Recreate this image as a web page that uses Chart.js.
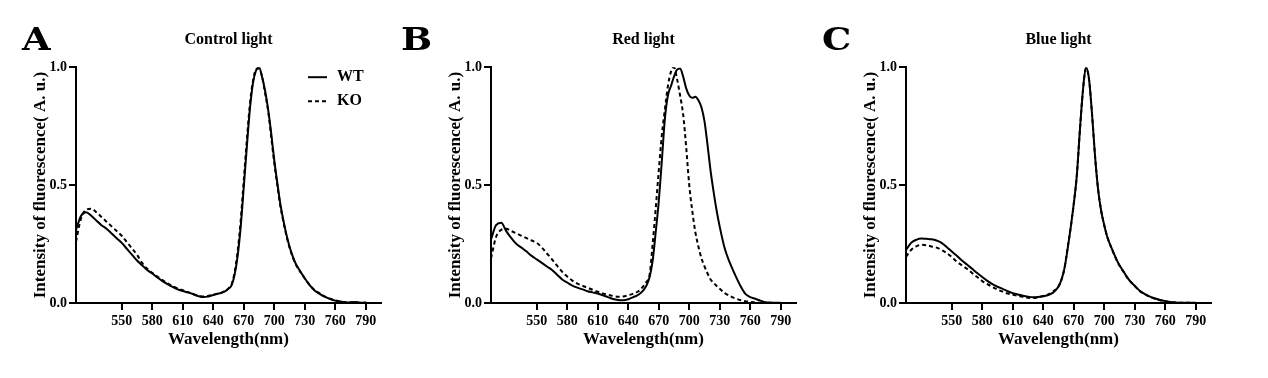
<!DOCTYPE html>
<html>
<head>
<meta charset="utf-8">
<script src="https://cdn.jsdelivr.net/npm/chart.js@4"></script>
<style>
  body { margin: 0; background: #fff; }
  #wrap { position: relative; width: 1268px; height: 378px; }
  .panel { position: absolute; top: 0; width: 415px; height: 378px; }
  .tag { position: absolute; top: 20px; font: bold 32px 'DejaVu Serif', 'Liberation Serif', serif; transform: scaleX(1.15); transform-origin: left top; }
</style>
</head>
<body>
<div id="wrap">
  <div class="panel" style="left:0px"><canvas id="chartA" width="415" height="378"></canvas></div>
  <div class="panel" style="left:415px"><canvas id="chartB" width="415" height="378"></canvas></div>
  <div class="panel" style="left:830px"><canvas id="chartC" width="415" height="378"></canvas></div>
  <div class="tag" style="left:22px">A</div>
  <div class="tag" style="left:401px">B</div>
  <div class="tag" style="left:822px">C</div>
</div>
<script>
// wavelength grid (nm), shared by every series
var wavelength = [505, 510, 515, 520, 525, 530, 535, 540, 545, 550, 555, 560, 565, 570, 575, 580, 585, 590, 595, 600,
  605, 610, 615, 620, 625, 630, 635, 640, 645, 650, 655,
  658, 661, 664, 667, 670, 673, 676, 679, 682, 685, 688, 691, 694, 697, 700, 703, 706, 709, 712, 715, 718, 721, 724, 727, 730,
  735, 740, 745, 750, 755, 760, 765, 770, 775, 780, 785, 790];

var xTicks = [550, 580, 610, 640, 670, 700, 730, 760, 790];
var yTicks = [0, 0.5, 1.0];
var seriesNames = ['WT', 'KO'];
var panelTitles = ['Control light', 'Red light', 'Blue light'];

// A: control light
var controlWT = [0.31, 0.37, 0.385, 0.37, 0.35, 0.33, 0.315, 0.295, 0.275, 0.255, 0.23, 0.205, 0.18, 0.16, 0.14, 0.125, 0.108, 0.093, 0.08, 0.068,
  0.058, 0.051, 0.045, 0.038, 0.03, 0.025, 0.027, 0.034, 0.04, 0.046, 0.06,
  0.075, 0.12, 0.2, 0.323, 0.49, 0.66, 0.82, 0.93, 0.985, 1.0, 0.96, 0.9, 0.82, 0.72, 0.606, 0.51, 0.42, 0.35, 0.29, 0.24, 0.2, 0.168, 0.145, 0.125, 0.105,
  0.075, 0.052, 0.038, 0.026, 0.017, 0.01, 0.006, 0.003, 0.002, 0.004, 0.001, 0.002];
var controlKO = [0.26, 0.36, 0.395, 0.4, 0.385, 0.365, 0.345, 0.325, 0.305, 0.285, 0.258, 0.232, 0.205, 0.17, 0.145, 0.128, 0.112, 0.097, 0.083, 0.072,
  0.062, 0.054, 0.046, 0.038, 0.031, 0.028, 0.03, 0.035, 0.04, 0.047, 0.062,
  0.08, 0.13, 0.22, 0.35, 0.52, 0.69, 0.84, 0.94, 0.99, 0.995, 0.96, 0.89, 0.815, 0.705, 0.595, 0.5, 0.41, 0.345, 0.285, 0.235, 0.197, 0.165, 0.143, 0.123, 0.104,
  0.076, 0.054, 0.04, 0.027, 0.018, 0.011, 0.006, 0.003, 0.003, 0.003, 0.001, 0.002];

// B: red light
var redWT = [0.27, 0.33, 0.34, 0.305, 0.275, 0.25, 0.235, 0.218, 0.2, 0.185, 0.17, 0.155, 0.14, 0.12, 0.1, 0.087, 0.074, 0.065, 0.058, 0.05,
  0.045, 0.04, 0.033, 0.025, 0.017, 0.013, 0.012, 0.016, 0.025, 0.035, 0.055,
  0.075, 0.11, 0.18, 0.3, 0.43, 0.6, 0.78, 0.88, 0.92, 0.96, 0.99, 0.995, 0.96, 0.91, 0.88, 0.87, 0.875, 0.86, 0.83, 0.77, 0.67, 0.56, 0.47, 0.39, 0.323,
  0.23, 0.17, 0.12, 0.075, 0.04, 0.025, 0.018, 0.01, 0.003, 0.002, 0.001, 0.001];
var redKO = [0.19, 0.28, 0.31, 0.315, 0.305, 0.295, 0.285, 0.275, 0.265, 0.255, 0.235, 0.21, 0.185, 0.158, 0.132, 0.112, 0.095, 0.082, 0.073, 0.065,
  0.056, 0.048, 0.041, 0.035, 0.03, 0.027, 0.028, 0.033, 0.04, 0.05, 0.072,
  0.09, 0.12, 0.25, 0.4, 0.56, 0.71, 0.82, 0.92, 0.98, 1.0, 0.95, 0.88, 0.8, 0.66, 0.5, 0.39, 0.3, 0.24, 0.19, 0.155, 0.125, 0.1, 0.085, 0.072, 0.06,
  0.042, 0.03, 0.02, 0.013, 0.008, 0.005, 0.002, 0.001, null, null, null, null];

// C: blue light
var blueWT = [0.225, 0.255, 0.268, 0.274, 0.272, 0.27, 0.265, 0.255, 0.237, 0.218, 0.2, 0.18, 0.163, 0.145, 0.127, 0.11, 0.094, 0.08, 0.069, 0.06,
  0.05, 0.042, 0.036, 0.031, 0.027, 0.024, 0.025, 0.029, 0.034, 0.045, 0.07,
  0.1, 0.15, 0.23, 0.32, 0.42, 0.54, 0.73, 0.9, 1.0, 0.95, 0.8, 0.62, 0.48, 0.39, 0.33, 0.28, 0.245, 0.215, 0.185, 0.16, 0.14, 0.12, 0.1, 0.086, 0.073,
  0.052, 0.038, 0.027, 0.019, 0.013, 0.008, 0.004, 0.002, 0.001, 0.001, 0.001, 0.001];
var blueKO = [0.196, 0.225, 0.24, 0.247, 0.245, 0.24, 0.235, 0.225, 0.212, 0.195, 0.175, 0.16, 0.145, 0.127, 0.11, 0.093, 0.08, 0.068, 0.057, 0.048,
  0.04, 0.035, 0.03, 0.026, 0.022, 0.021, 0.024, 0.03, 0.036, 0.05, 0.07,
  0.1, 0.15, 0.235, 0.32, 0.42, 0.54, 0.73, 0.9, 0.995, 0.95, 0.8, 0.62, 0.48, 0.39, 0.33, 0.28, 0.245, 0.213, 0.183, 0.158, 0.138, 0.118, 0.098, 0.085, 0.072,
  0.05, 0.037, 0.026, 0.018, 0.012, 0.007, 0.004, 0.002, 0.001, 0.001, 0.001, null];

Chart.defaults.font.family = "'Liberation Serif', 'Times New Roman', serif";
Chart.defaults.color = '#000';

// legend drawn inside the plot area (top right), from the datasets themselves
var insideLegend = {
  id: 'insideLegend',
  afterDraw: function (chart) {
    var ctx = chart.ctx;
    var area = chart.chartArea;
    var x0 = area.right - 73;
    chart.data.datasets.forEach(function (ds, i) {
      var y = area.top + 10 + i * 24;
      ctx.save();
      ctx.strokeStyle = ds.borderColor;
      ctx.lineWidth = ds.borderWidth;
      ctx.setLineDash(ds.borderDash || []);
      ctx.beginPath();
      ctx.moveTo(x0, y);
      ctx.lineTo(x0 + 19, y);
      ctx.stroke();
      ctx.setLineDash([]);
      ctx.fillStyle = '#000';
      ctx.font = "bold 16px 'Liberation Serif', serif";
      ctx.textBaseline = 'middle';
      ctx.fillText(ds.label, x0 + 29, y);
      ctx.restore();
    });
  }
};

function toPoints(values) {
  return wavelength.map(function (w, i) { return { x: w, y: values[i] }; });
}

function makePanel(id, title, wt, ko, withLegend) {
  var ctx = document.getElementById(id).getContext('2d');
  return new Chart(ctx, {
    type: 'line',
    data: {
      datasets: [{
        label: seriesNames[0],
        data: toPoints(wt),
        borderColor: '#000',
        borderWidth: 2,
        pointRadius: 0,
        cubicInterpolationMode: 'monotone'
      }, {
        label: seriesNames[1],
        data: toPoints(ko),
        borderColor: '#000',
        borderWidth: 2,
        borderDash: [4, 3],
        pointRadius: 0,
        cubicInterpolationMode: 'monotone'
      }]
    },
    options: {
      responsive: false,
      animation: false,
      layout: { padding: { left: 0, right: 34, top: 0, bottom: 0 } },
      plugins: {
        legend: { display: false },
        tooltip: { enabled: false },
        title: {
          display: true,
          text: title,
          fullSize: false,
          font: { size: 16, weight: 'bold' },
          padding: { top: 30, bottom: 18 }
        }
      },
      scales: {
        x: {
          type: 'linear',
          min: 505,
          max: 805,
          afterFit: function (scale) { scale.height = 75; },
          afterBuildTicks: function (scale) {
            scale.ticks = xTicks.map(function (v) { return { value: v }; });
          },
          border: { display: true, color: '#000', width: 2 },
          grid: { drawOnChartArea: false, color: '#000', lineWidth: 2, tickLength: 7 },
          ticks: { font: { size: 14, weight: 'bold' }, padding: 3, maxRotation: 0 },
          title: {
            display: true,
            text: 'Wavelength(nm)',
            font: { size: 17, weight: 'bold' },
            padding: { top: 0, bottom: 28 }
          }
        },
        y: {
          min: 0,
          max: 1,
          afterFit: function (scale) { scale.width = 76; },
          afterBuildTicks: function (scale) {
            scale.ticks = yTicks.map(function (v) { return { value: v }; });
          },
          border: { display: true, color: '#000', width: 2 },
          grid: { drawOnChartArea: false, color: '#000', lineWidth: 2, tickLength: 7 },
          ticks: {
            font: { size: 14, weight: 'bold' },
            padding: 2,
            callback: function (v) { return Number(v).toFixed(1); }
          },
          title: {
            display: true,
            text: 'Intensity of fluorescence( A. u.)',
            font: { size: 17, weight: 'bold' },
            padding: { top: 30, bottom: 0 }
          }
        }
      }
    },
    plugins: withLegend ? [insideLegend] : []
  });
}

document.addEventListener('DOMContentLoaded', function () {
  makePanel('chartA', panelTitles[0], controlWT, controlKO, true);
  makePanel('chartB', panelTitles[1], redWT, redKO, false);
  makePanel('chartC', panelTitles[2], blueWT, blueKO, false);
});
</script>
</body>
</html>
